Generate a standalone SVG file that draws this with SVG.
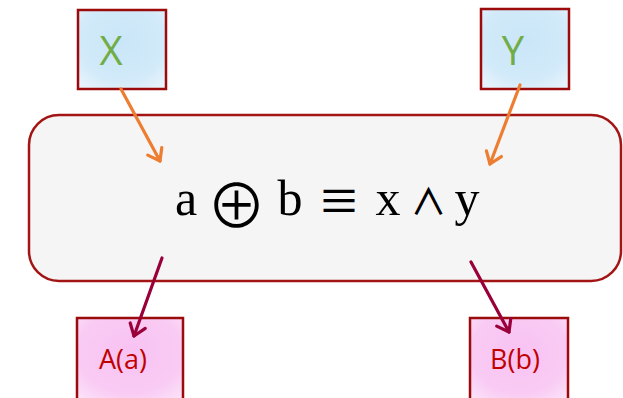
<svg xmlns="http://www.w3.org/2000/svg" width="623" height="398" viewBox="0 0 623 398">
<style>
.in rect{fill:url(#gBlue);stroke:#9c0b0b;stroke-width:2.5}
.out rect{fill:url(#gPink);stroke:#9c0b0b;stroke-width:2.5}
.lin{font-family:"Open Sans","Liberation Sans",sans-serif;font-size:40px;fill:#70ad47;text-anchor:middle}
.lout{font-family:"Open Sans","Liberation Sans",sans-serif;font-size:27px;fill:#c00000;text-anchor:middle}
.f{font-family:"Liberation Serif","DejaVu Serif",serif;font-size:50px;fill:#000;text-anchor:middle}
.fs{font-family:"Noto Sans CJK JP","DejaVu Sans",sans-serif;fill:#000;text-anchor:middle}
.co{fill:none;stroke-width:3.2;stroke-linecap:round}
.or{stroke:#ed7d31}
.cr{stroke:#990039}
</style>
<defs>
<radialGradient id="gBlue" cx="0.5" cy="0.4" r="0.7">
<stop offset="0" stop-color="#c9e6f8"/>
<stop offset="0.7" stop-color="#d2eaf9"/>
<stop offset="1" stop-color="#e6f3fc"/>
</radialGradient>
<radialGradient id="gPink" cx="0.5" cy="0.4" r="0.7">
<stop offset="0" stop-color="#f8c2f2"/>
<stop offset="0.7" stop-color="#f9cbf4"/>
<stop offset="1" stop-color="#fbe0f8"/>
</radialGradient>
<marker id="aOr" viewBox="0 0 20 20" refX="14" refY="10" markerWidth="20" markerHeight="20" markerUnits="userSpaceOnUse" orient="auto">
<path d="M3,2 L14,10 L3,18" fill="none" stroke="#ed7d31" stroke-width="3.2" stroke-linecap="round" stroke-linejoin="round"/>
</marker>
<marker id="aCr" viewBox="0 0 20 20" refX="14" refY="10" markerWidth="20" markerHeight="20" markerUnits="userSpaceOnUse" orient="auto">
<path d="M3,2 L14,10 L3,18" fill="none" stroke="#990039" stroke-width="3.2" stroke-linecap="round" stroke-linejoin="round"/>
</marker>
</defs>
<g id="main">
<rect x="29" y="115" width="592" height="166" rx="30" ry="30" fill="#f5f5f5" stroke="#a31515" stroke-width="2.5"/>
<text class="f" x="186" y="215">a</text>
<text class="fs" x="236.5" y="228" font-size="60" font-weight="350">⊕</text>
<text class="f" x="290" y="215">b</text>
<text class="fs" x="339" y="217" font-size="43" font-weight="500">≡</text>
<text class="f" x="388" y="215">x</text>
<text class="fs" x="428.5" y="215" font-size="36" font-weight="500">∧</text>
<text class="f" x="467" y="215">y</text>
</g>
<g id="nodeX" class="in">
<rect x="78" y="10" width="88" height="79"/>
<text class="lin" x="111" y="65">X</text>
</g>
<g id="nodeY" class="in">
<rect x="481" y="9" width="88" height="80"/>
<text class="lin" x="513" y="65">Y</text>
</g>
<g id="nodeA" class="out">
<rect x="77" y="318" width="106" height="85"/>
<text class="lout" x="123" y="369">A(a)</text>
</g>
<g id="nodeB" class="out">
<rect x="470" y="318" width="98" height="85"/>
<text class="lout" x="515" y="369">B(b)</text>
</g>
<g id="connectors">
<line class="co or" x1="121" y1="89" x2="160" y2="161" marker-end="url(#aOr)"/>
<line class="co or" x1="520" y1="85" x2="490" y2="164" marker-end="url(#aOr)"/>
<line class="co cr" x1="162" y1="258" x2="134" y2="336" marker-end="url(#aCr)"/>
<line class="co cr" x1="471" y1="262" x2="509" y2="332" marker-end="url(#aCr)"/>
</g>
</svg>
